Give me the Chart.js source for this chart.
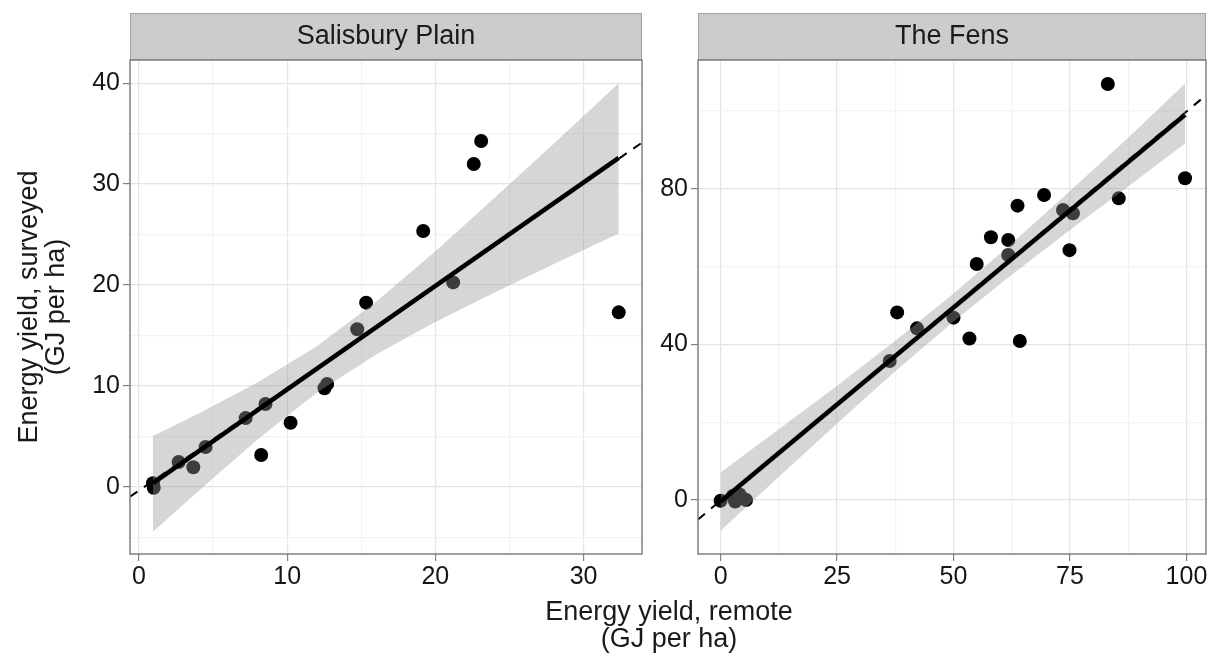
<!DOCTYPE html>
<html>
<head>
<meta charset="utf-8">
<script src="https://cdn.jsdelivr.net/npm/chart.js@4/dist/chart.umd.min.js"></script>
<style>
  body { margin: 0; background: #fff; }
  #wrap { position: relative; width: 1213px; height: 657px; overflow: hidden;
          font-family: 'Liberation Sans', Arial, sans-serif; color: #1a1a1a; }
  canvas { position: absolute; top: 0; }
  .titulo { position: absolute; font-size: 27px; text-align: center; white-space: nowrap; }
  #tituloX { left: 469px; top: 598px; width: 400px; line-height: 27px; }
  #tituloY { left: -108px; top: 280px; width: 300px; height: 54px; line-height: 27px; transform: rotate(-90deg); }
</style>
</head>
<body>
<div id="wrap">
  <canvas id="chartSP" width="660" height="657" style="left:0"></canvas>
  <canvas id="chartFens" width="553" height="657" style="left:660px"></canvas>
  <div class="titulo" id="tituloX">Energy yield, remote<br>(GJ per ha)</div>
  <div class="titulo" id="tituloY">Energy yield, surveyed<br>(GJ per ha)</div>
</div>
<script>
// --- Salisbury Plain ---
const spRemote   = [0.95, 1.0, 2.68, 3.67, 4.5, 7.2, 8.25, 8.54, 10.23, 12.52, 12.7, 14.73, 15.33, 19.18, 21.2, 22.59, 23.09, 32.37];
const spSurveyed = [0.35, -0.1, 2.45, 1.93, 3.93, 6.8, 3.14, 8.2, 6.34, 9.75, 10.18, 15.6, 18.24, 25.34, 20.25, 31.98, 34.26, 17.28];
const spFitX = [0.95, 32.37];
const spFitY = [0.35, 32.6];
// ajuste prolongado (tracejado) ate as bordas do painel
const spDashX = [-0.6, 33.94];
const spDashY = [-1.0, 34.1];
const spBandX    = [0.95, 4, 8, 12, 16, 20, 24, 28, 32.37];
const spBandLow  = [-4.46, -0.44, 4.68, 9.3, 13.11, 16.32, 19.25, 22.08, 25.1];
const spBandHigh = [5.02, 7.22, 10.32, 13.92, 18.33, 23.34, 28.63, 34.02, 39.98];
const spXTicks = [0, 10, 20, 30];
const spXMinor = [5, 15, 25];
const spYTicks = [0, 10, 20, 30, 40];
const spYMinor = [-5, 5, 15, 25, 35];
const spXLimits = [-0.6, 33.94];
const spYLimits = [-6.67, 42.29];

// --- The Fens ---
const fensRemote   = [0, 2.63, 3.12, 4.0, 4.76, 5.47, 36.3, 37.9, 42.16, 50.0, 53.42, 54.98, 58.03, 61.75, 61.75, 63.74, 64.23, 69.44, 73.5, 74.9, 75.64, 83.12, 85.47, 99.7];
const fensSurveyed = [-0.2, 1.03, -0.4, 1.5, 0.43, 0.0, 35.7, 48.2, 44.1, 46.85, 41.5, 60.64, 67.5, 66.8, 62.95, 75.63, 40.85, 78.37, 74.5, 64.2, 73.65, 106.9, 77.5, 82.65];
const fensFitX = [0, 99.7];
const fensFitY = [-0.4, 99.0];
const fensDashX = [-4.85, 104.2];
const fensDashY = [-5.0, 104.0];
const fensBandX    = [0, 12.5, 25, 37.5, 50, 62.5, 75, 87.5, 99.7];
const fensBandLow  = [-7.9, 5.97, 19.66, 33.06, 45.85, 57.89, 69.39, 80.58, 91.6];
const fensBandHigh = [7.1, 18.15, 29.34, 40.92, 53.05, 65.93, 79.37, 93.1, 107.0];
const fensXTicks = [0, 25, 50, 75, 100];
const fensXMinor = [12.5, 37.5, 62.5, 87.5];
const fensYTicks = [0, 40, 80];
const fensYMinor = [20, 60, 100];
const fensXLimits = [-4.85, 104.2];
const fensYLimits = [-13.87, 113.05];

const FONTE = "'Liberation Sans', Arial, sans-serif";

function pares(xs, ys) {
    return xs.map((x, i) => ({ x: x, y: ys[i] }));
}

// faixa cinza do facet + moldura do painel
const pluginPainel = {
    id: 'painel',
    afterDraw(chart, args, opts) {
        const { ctx, chartArea: a } = chart;
        ctx.save();
        ctx.fillStyle = '#cccccc';
        ctx.fillRect(a.left, a.top - 47, a.right - a.left, 47);
        ctx.strokeStyle = '#a3a3a3';
        ctx.lineWidth = 1;
        ctx.strokeRect(a.left + 0.5, a.top - 46.5, a.right - a.left - 1, 46);
        ctx.fillStyle = '#1a1a1a';
        ctx.font = '27px ' + FONTE;
        ctx.textAlign = 'center';
        ctx.textBaseline = 'middle';
        ctx.fillText(opts.rotulo, (a.left + a.right) / 2, a.top - 23);
        ctx.strokeStyle = '#808080';
        ctx.lineWidth = 1.5;
        ctx.strokeRect(a.left, a.top, a.right - a.left, a.bottom - a.top);
        ctx.restore();
    }
};

function eixo(limites, maiores, menores, tamanho, horizontal) {
    return {
        type: 'linear',
        min: limites[0],
        max: limites[1],
        afterBuildTicks: (s) => {
            s.ticks = maiores.concat(menores).sort((a, b) => a - b).map(v => ({ value: v }));
        },
        afterFit: (s) => {
            if (horizontal) s.height = tamanho; else s.width = tamanho;
        },
        border: { display: false },
        grid: {
            color: (c) => maiores.includes(c.tick.value) ? '#e4e4e4' : '#f2f2f2',
            lineWidth: 1.2,
            tickColor: (c) => maiores.includes(c.tick.value) ? '#808080' : 'rgba(0,0,0,0)',
            tickLength: 7,
            drawTicks: true
        },
        ticks: {
            autoSkip: false,
            maxRotation: 0,
            padding: horizontal ? 1 : 3,
            color: '#151515',
            font: { family: FONTE, size: 25 },
            callback: (v) => maiores.includes(v) ? String(v) : ''
        }
    };
}

function criarPainel(id, p) {
    const ctx = document.getElementById(id).getContext('2d');
    return new Chart(ctx, {
        type: 'line',
        data: {
            datasets: [
                {   // ajuste prolongado, tracejado
                    data: pares(p.dashX, p.dashY),
                    borderColor: '#000', borderWidth: 2, borderDash: [9, 8],
                    pointRadius: 0, fill: false, order: 4, clip: 0
                },
                {   // pontos
                    data: pares(p.x, p.y),
                    showLine: false, pointRadius: 7, pointBorderWidth: 0,
                    pointBackgroundColor: '#000', order: 3
                },
                {   // banda inferior
                    data: pares(p.bandX, p.bandLow),
                    borderWidth: 0, pointRadius: 0, fill: false, order: 2, clip: 0
                },
                {   // banda superior
                    data: pares(p.bandX, p.bandHigh),
                    borderWidth: 0, pointRadius: 0, fill: '-1',
                    backgroundColor: 'rgba(153,153,153,0.4)', order: 2, clip: 0
                },
                {   // ajuste
                    data: pares(p.fitX, p.fitY),
                    borderColor: '#000', borderWidth: 4.6, pointRadius: 0,
                    fill: false, order: 1, clip: 0
                }
            ]
        },
        options: {
            responsive: false,
            animation: false,
            layout: { padding: { top: 60, bottom: 63, left: 0, right: p.direita } },
            plugins: {
                legend: { display: false },
                tooltip: { enabled: false },
                painel: { rotulo: p.rotulo }
            },
            scales: {
                x: eixo(p.xLim, p.xTicks, p.xMinor, 40, true),
                y: eixo(p.yLim, p.yTicks, p.yMinor, p.larguraY, false)
            }
        },
        plugins: [pluginPainel]
    });
}

criarPainel('chartSP', {
    rotulo: 'Salisbury Plain',
    x: spRemote, y: spSurveyed,
    fitX: spFitX, fitY: spFitY, dashX: spDashX, dashY: spDashY,
    bandX: spBandX, bandLow: spBandLow, bandHigh: spBandHigh,
    xLim: spXLimits, yLim: spYLimits,
    xTicks: spXTicks, xMinor: spXMinor, yTicks: spYTicks, yMinor: spYMinor,
    larguraY: 130, direita: 18
});

criarPainel('chartFens', {
    rotulo: 'The Fens',
    x: fensRemote, y: fensSurveyed,
    fitX: fensFitX, fitY: fensFitY, dashX: fensDashX, dashY: fensDashY,
    bandX: fensBandX, bandLow: fensBandLow, bandHigh: fensBandHigh,
    xLim: fensXLimits, yLim: fensYLimits,
    xTicks: fensXTicks, xMinor: fensXMinor, yTicks: fensYTicks, yMinor: fensYMinor,
    larguraY: 38, direita: 4
});
</script>
</body>
</html>
